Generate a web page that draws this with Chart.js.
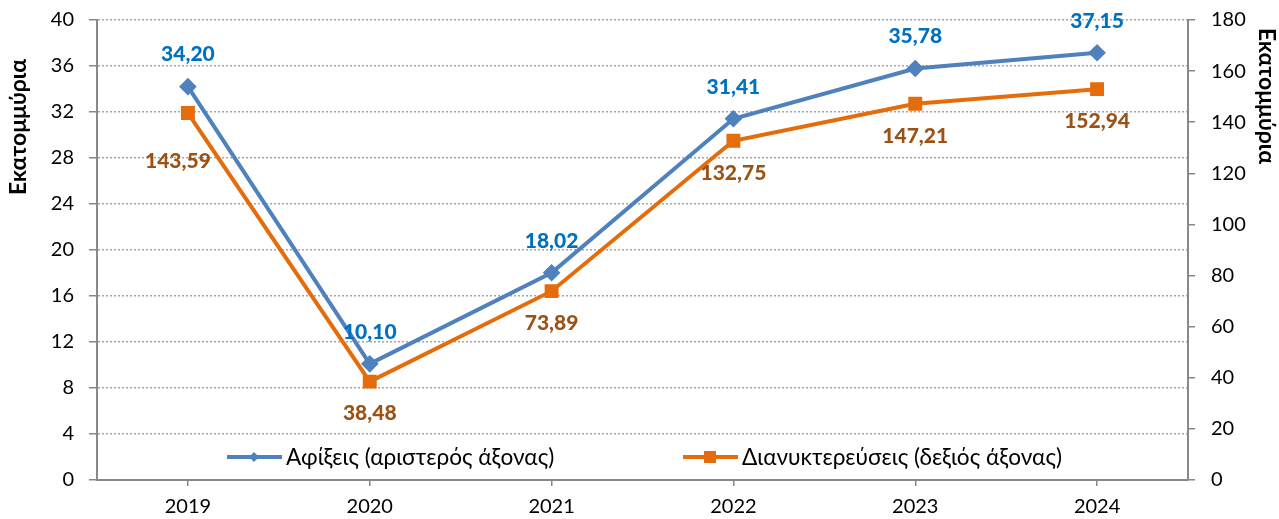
<!DOCTYPE html>
<html><head><meta charset="utf-8">
<script src="https://cdn.jsdelivr.net/npm/chart.js@4"></script>
<style>html,body{margin:0;padding:0;background:#fff}#wrap{width:1279px;height:519px}</style>
</head><body><div id="wrap"><canvas id="c" width="1279" height="519"></canvas></div>
<script>
const categories = ['2019','2020','2021','2022','2023','2024'];
const arrivals = [34.20, 10.10, 18.02, 31.41, 35.78, 37.15];
const nights = [143.59, 38.48, 73.89, 132.75, 147.21, 152.94];
const seriesNames = ['Αφίξεις (αριστερός άξονας)', 'Διανυκτερεύσεις (δεξιός άξονας)'];
const axisTitle = 'Εκατομμύρια';

const FONT = "Lato, 'Open Sans', sans-serif";
const BLUE = '#4F81BD', ORANGE = '#E46C0A';
const BLUE_LBL = '#0070C0', ORANGE_LBL = '#9C5214';
const fmt = v => v.toFixed(2).replace('.', ',');

const overlay = {
  id: 'overlay',
  afterDatasetsDraw(chart) {
    const ctx = chart.ctx;
    ctx.save();
    // data labels
    ctx.font = "900 21px " + FONT;
    ctx.textAlign = 'center'; ctx.textBaseline = 'middle';
    chart.getDatasetMeta(0).data.forEach((p, i) => {
      ctx.fillStyle = BLUE_LBL;
      ctx.fillText(fmt(arrivals[i]), p.x, p.y - 32);
    });
    chart.getDatasetMeta(1).data.forEach((p, i) => {
      ctx.fillStyle = ORANGE_LBL;
      ctx.fillText(fmt(nights[i]), p.x - (i === 0 ? 10 : 0), p.y + (i === 0 ? 48 : 32));
    });
    // legend inside chart area
    const ly = 457;
    const items = [
      {x: 227, color: BLUE, text: seriesNames[0], style: 'diamond'},
      {x: 683, color: ORANGE, text: seriesNames[1], style: 'square'}
    ];
    ctx.font = "22.6px " + FONT;
    ctx.textAlign = 'left';
    items.forEach(it => {
      ctx.strokeStyle = it.color; ctx.lineWidth = 4; ctx.lineCap = 'butt';
      ctx.beginPath(); ctx.moveTo(it.x, ly); ctx.lineTo(it.x + 55, ly); ctx.stroke();
      ctx.fillStyle = it.color;
      const cx = it.x + 27;
      if (it.style === 'diamond') {
        ctx.beginPath(); ctx.moveTo(cx, ly - 5); ctx.lineTo(cx + 5, ly); ctx.lineTo(cx, ly + 5); ctx.lineTo(cx - 5, ly); ctx.closePath(); ctx.fill();
      } else {
        ctx.fillRect(cx - 6, ly - 6, 12, 12);
      }
      ctx.fillStyle = '#000';
      ctx.fillText(it.text, it.x + 59, ly + 1);
    });
    // axis titles
    ctx.font = "bold 23px " + FONT;
    ctx.fillStyle = '#000';
    ctx.textAlign = 'center';
    ctx.save(); ctx.translate(19, 127); ctx.rotate(-Math.PI / 2); ctx.fillText(axisTitle, 0, 0); ctx.restore();
    ctx.save(); ctx.translate(1266, 96); ctx.rotate(Math.PI / 2); ctx.fillText(axisTitle, 0, 0); ctx.restore();
    ctx.restore();
  }
};

new Chart(document.getElementById('c'), {
  type: 'line',
  data: {
    labels: categories,
    datasets: [
      {label: seriesNames[0], data: arrivals, yAxisID: 'y', borderColor: BLUE, backgroundColor: BLUE,
       borderWidth: 4, pointStyle: 'rectRot', pointRadius: 6, pointHoverRadius: 6, tension: 0, order: 1},
      {label: seriesNames[1], data: nights, yAxisID: 'y1', borderColor: ORANGE, backgroundColor: ORANGE,
       borderWidth: 4, pointStyle: 'rect', pointRadius: 7, pointHoverRadius: 7, tension: 0, order: 2}
    ]
  },
  options: {
    responsive: false, animation: false,
    layout: {padding: {top: 20, left: 0, right: 0, bottom: 0}},
    plugins: {legend: {display: false}, tooltip: {enabled: false}},
    scales: {
      x: {
        offset: true,
        grid: {display: true, drawOnChartArea: false, drawTicks: true, tickLength: 6, color: '#888', offset: false, lineWidth: 1.5},
        border: {color: '#888', width: 2},
        ticks: {color: '#000', font: {family: FONT, size: 20}, padding: 9},
        afterFit(s) { s.height = 39; s.paddingLeft = 0; s.paddingRight = 0; }
      },
      y: {
        position: 'left', min: 0, max: 40,
        ticks: {stepSize: 4, color: '#000', font: {family: FONT, size: 20}, padding: 15},
        grid: {color: '#A6A6A6', lineWidth: 1.5, tickLength: 8, drawTicks: true,
               tickColor: '#888', tickBorderDash: [], tickWidth: 1.5},
        border: {color: '#888', width: 2, dash: [2, 2]},
        afterFit(s) { s.width = 97; s.paddingTop = 10; s.paddingBottom = 0; }
      },
      y1: {
        position: 'right', min: 0, max: 180,
        ticks: {stepSize: 20, color: '#000', font: {family: FONT, size: 20}, padding: 16},
        grid: {drawOnChartArea: false, tickLength: 7, color: '#888', lineWidth: 1.5},
        border: {color: '#888', width: 2},
        afterFit(s) { s.width = 91; s.paddingTop = 10; s.paddingBottom = 0; }
      }
    }
  },
  plugins: [overlay]
});
</script></body></html>
